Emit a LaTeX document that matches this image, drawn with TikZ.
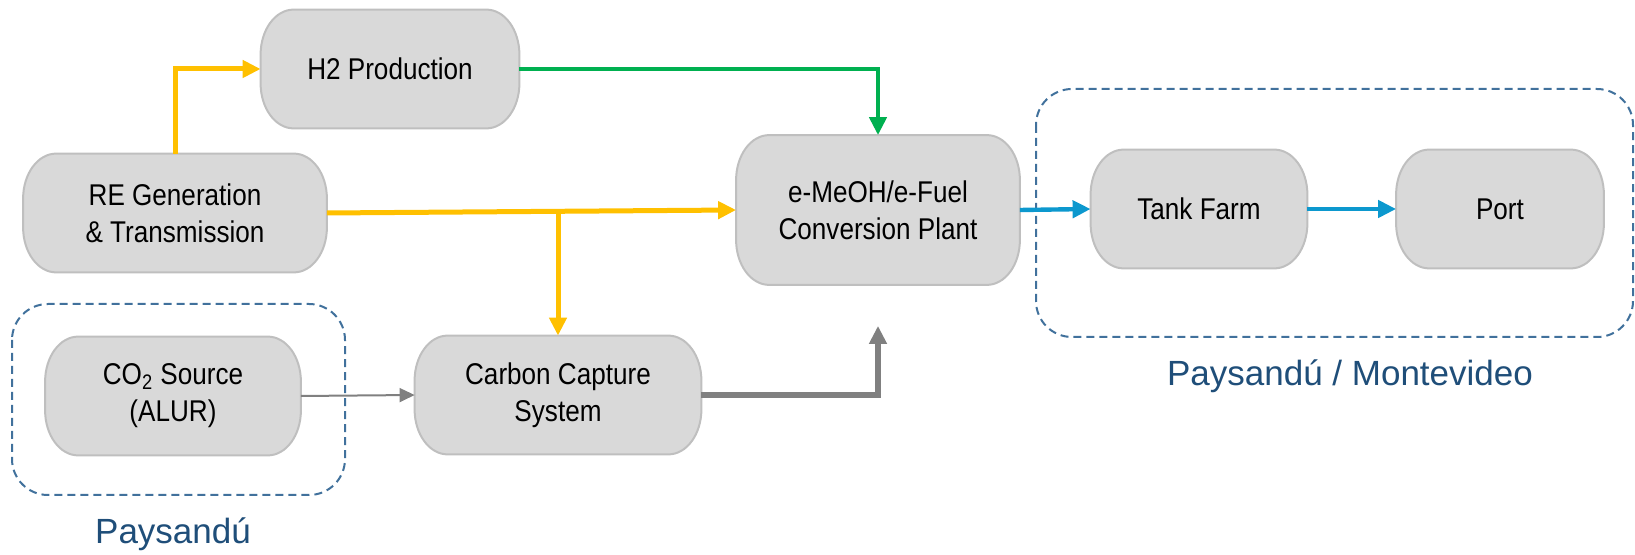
\documentclass[tikz,border=0pt]{standalone}
\usepackage{fontspec}
\setmainfont{Liberation Sans}
\newfontfamily\boxfont[FakeStretch=0.87]{Liberation Sans}
\usetikzlibrary{arrows.meta,backgrounds}

\definecolor{sunyellow}{HTML}{FFC000}
\definecolor{leafgreen}{HTML}{00B050}
\definecolor{seablue}{HTML}{0C98CE}
\definecolor{ashgray}{HTML}{808080}
\definecolor{unitfill}{HTML}{D9D9D9}
\definecolor{unitedge}{HTML}{BFBFBF}
\definecolor{zoneline}{HTML}{41719C}
\definecolor{zonetext}{HTML}{1F4E79}

\tikzset{
    unit/.style={font={\boxfont\fontsize{15pt}{18.5pt}\selectfont}, align=center,
        inner sep=0pt, minimum height=59pt},
    unitshape/.style={fill=unitfill, draw=unitedge, line width=1pt},
    flow/.style={line width=2.5pt, -{Triangle[length=9pt,width=8.5pt]}},
    zone/.style={draw=zoneline, line width=1pt, dash pattern=on 4pt off 2.5pt,
        rounded corners=18pt},
    zonetag/.style={font=\fontsize{17.5pt}{21pt}\selectfont, text=zonetext, anchor=base}
}

\begin{document}
\begin{tikzpicture}[x=0.5pt,y=0.5pt]
    \useasboundingbox (0,0) rectangle (1635,-555);

    % process units
    \node[unit, minimum width=129pt] (h2) at (390,-69) {H2 Production};
    \node[unit, minimum width=151.5pt] (re) at (175,-213) {RE Generation\\\& Transmission};
    \node[unit, minimum width=141.5pt, minimum height=74.5pt] (plant) at (878,-210)
        {e-MeOH/e-Fuel\\Conversion Plant};
    \node[unit, minimum width=108pt] (tank) at (1199,-209) {Tank Farm};
    \node[unit, minimum width=103.5pt] (port) at (1500,-209) {Port};
    \node[unit, minimum width=127.5pt] (co2) at (173,-396) {CO\textsubscript{2} Source\\(ALUR)};
    \node[unit, minimum width=143pt] (cc) at (558,-395) {Carbon Capture\\System};

    \begin{scope}[on background layer]
        \foreach \n in {h2,re,plant,tank,port,co2,cc}
            \draw[unitshape] ([xshift=16.5pt]\n.south west) -- ([xshift=-16.5pt]\n.south east)
                arc[start angle=-90,end angle=0,x radius=16.5pt,y radius=22.5pt]
                -- ([yshift=-22.5pt]\n.north east)
                arc[start angle=0,end angle=90,x radius=16.5pt,y radius=22.5pt]
                -- ([xshift=16.5pt]\n.north west)
                arc[start angle=90,end angle=180,x radius=16.5pt,y radius=22.5pt]
                -- ([yshift=22.5pt]\n.south west)
                arc[start angle=180,end angle=270,x radius=16.5pt,y radius=22.5pt]
                -- cycle;
    \end{scope}

    % sites
    \draw[zone] (12,-304) rectangle (345,-495);
    \draw[zone] (1036,-89) rectangle (1633,-337);
    \node[zonetag] (paysandu) at (173,-544) {Paysandú};
    \node[zonetag] (montevideo) at (1350,-386) {Paysandú / Montevideo};

    % power
    \draw[flow, sunyellow] (re.north) |- (h2.west);
    \draw[flow, sunyellow] (re.east) -- (plant.west);
    \draw[flow, sunyellow] (re.east -| cc.north) -- (cc.north);

    % hydrogen
    \draw[flow, leafgreen, line width=2.2pt] (h2.east) -| (plant.north);

    % carbon
    \coordinate (plantin) at ([yshift=-20.5pt]plant.south);
    \draw[ashgray, line width=1pt, -{Triangle[length=7.5pt,width=7pt]}] (co2.east) -- (cc.west);
    \draw[flow, ashgray, line width=2.8pt] (cc.east) -| (plantin);

    % product
    \draw[flow, seablue, line width=2.2pt] (plant.east) -- (tank.west);
    \draw[flow, seablue, line width=2.2pt] (tank.east) -- (port.west);
\end{tikzpicture}
\end{document}
